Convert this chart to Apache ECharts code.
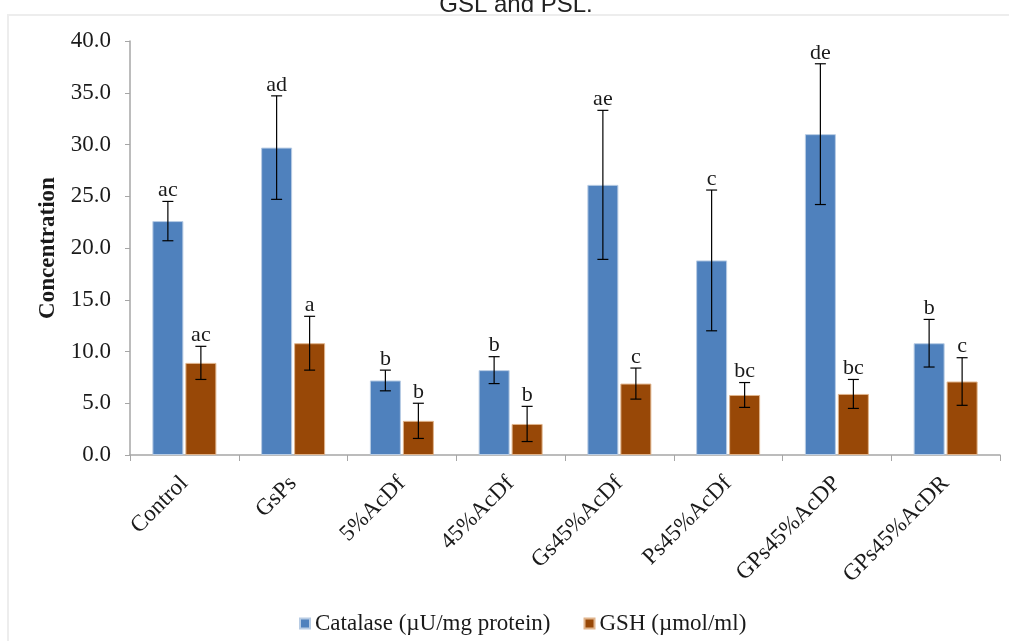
<!DOCTYPE html>
<html>
<head>
<meta charset="utf-8">
<script src="https://cdn.jsdelivr.net/npm/echarts@6/dist/echarts.min.js"></script>
<style>
html,body{margin:0;padding:0;background:#fff;}
#chart{width:1009px;height:641px;}
</style>
</head>
<body>
<div id="chart"></div>
<script>
const categories = ['Control','GsPs','5%AcDf','45%AcDf','Gs45%AcDf','Ps45%AcDf','GPs45%AcDP','GPs45%AcDR'];
const catalase = [22.6, 29.7, 7.2, 8.2, 26.1, 18.8, 31.0, 10.8];
const catalaseErr = [1.9, 5.0, 1.0, 1.3, 7.2, 6.8, 6.8, 2.3];
const catalaseLetters = ['ac','ad','b','b','ae','c','de','b'];
const gsh = [8.9, 10.8, 3.3, 3.0, 6.9, 5.8, 5.9, 7.1];
const gshErr = [1.6, 2.6, 1.7, 1.7, 1.5, 1.2, 1.4, 2.3];
const gshLetters = ['ac','a','b','b','c','bc','bc','c'];
const yTicks = [0, 5, 10, 15, 20, 25, 30, 35, 40];

const SERIF = '"Liberation Serif","Times New Roman",serif';
const BAR_W = 31;
const BAR_GAP = 2;
const OFF = (BAR_W + BAR_GAP) / 2;

function errSeries(name, vals, errs, letters, offset) {
  return {
    type: 'custom',
    name: name + ' err',
    z: 5,
    silent: true,
    data: vals.map((v, i) => [i, v, errs[i], letters[i]]),
    encode: { x: 0, y: 1 },
    renderItem: function (params, api) {
      const i = api.value(0), v = api.value(1), e = api.value(2);
      const lab = letters[params.dataIndex];
      const top = api.coord([i, v + e]);
      const bot = api.coord([i, v - e]);
      const x = top[0] + offset;
      const cap = 5.5;
      const st = { stroke: '#000', lineWidth: 1.2 };
      return {
        type: 'group',
        children: [
          { type: 'line', shape: { x1: x, y1: top[1], x2: x, y2: bot[1] }, style: st },
          { type: 'line', shape: { x1: x - cap, y1: top[1], x2: x + cap, y2: top[1] }, style: st },
          { type: 'line', shape: { x1: x - cap, y1: bot[1], x2: x + cap, y2: bot[1] }, style: st },
          { type: 'text', x: x, y: top[1], style: { text: lab, font: '22px ' + SERIF, fill: '#1a1a1a', align: 'center', verticalAlign: 'bottom' } }
        ]
      };
    }
  };
}

const chart = echarts.init(document.getElementById('chart'), null, { renderer: 'canvas' });
chart.setOption({
  animation: false,
  backgroundColor: '#fff',
  graphic: [
    { type: 'rect', shape: { x: 8, y: 15, width: 1020, height: 700 }, style: { fill: 'none', stroke: '#ededed', lineWidth: 2 }, silent: true },
    { type: 'text', x: 516, y: 17, style: { text: 'GSL and PSL.', font: '24px "Liberation Sans", Arial, sans-serif', fill: '#222', align: 'center', verticalAlign: 'bottom' }, silent: true }
  ],
  grid: { left: 130, right: 9, top: 41, bottom: 186, containLabel: false },
  legend: {
    left: 294, top: 607, itemWidth: 10, itemHeight: 10, itemGap: 33,
    icon: 'rect',
    textStyle: { fontFamily: SERIF, fontSize: 23, color: '#1a1a1a', padding: [0, 0, 0, 0] },
    data: ['Catalase (µU/mg protein)', 'GSH (µmol/ml)']
  },
  xAxis: {
    type: 'category',
    data: categories,
    axisLine: { lineStyle: { color: '#a6a6a6', width: 1.5 } },
    axisTick: { show: true, length: 6, lineStyle: { color: '#a6a6a6' } },
    axisLabel: { rotate: 45, fontFamily: SERIF, fontSize: 23, color: '#1a1a1a', margin: 25, interval: 0 }
  },
  yAxis: {
    type: 'value',
    min: 0, max: 40, interval: 5,
    name: 'Concentration',
    nameLocation: 'middle',
    nameGap: 65,
    nameTextStyle: { fontFamily: SERIF, fontSize: 23, fontWeight: 'bold', color: '#1a1a1a' },
    axisLine: { show: true, lineStyle: { color: '#a6a6a6', width: 1.5 } },
    axisTick: { show: true, length: 5, lineStyle: { color: '#a6a6a6' } },
    splitLine: { show: false },
    axisLabel: { fontFamily: SERIF, fontSize: 23, color: '#1a1a1a', margin: 19, formatter: v => yTicks.includes(v) ? v.toFixed(1) : '' }
  },
  series: [
    {
      name: 'Catalase (µU/mg protein)', type: 'bar', data: catalase,
      barWidth: BAR_W, barGap: (BAR_GAP / BAR_W * 100).toFixed(2) + '%',
      itemStyle: { color: '#4F81BD', borderColor: '#b8cce4', borderWidth: 1 }
    },
    {
      name: 'GSH (µmol/ml)', type: 'bar', data: gsh,
      barWidth: BAR_W,
      itemStyle: { color: '#984807', borderColor: '#e0b48c', borderWidth: 1 }
    },
    errSeries('Catalase', catalase, catalaseErr, catalaseLetters, -OFF),
    errSeries('GSH', gsh, gshErr, gshLetters, OFF)
  ]
});
</script>
</body>
</html>
